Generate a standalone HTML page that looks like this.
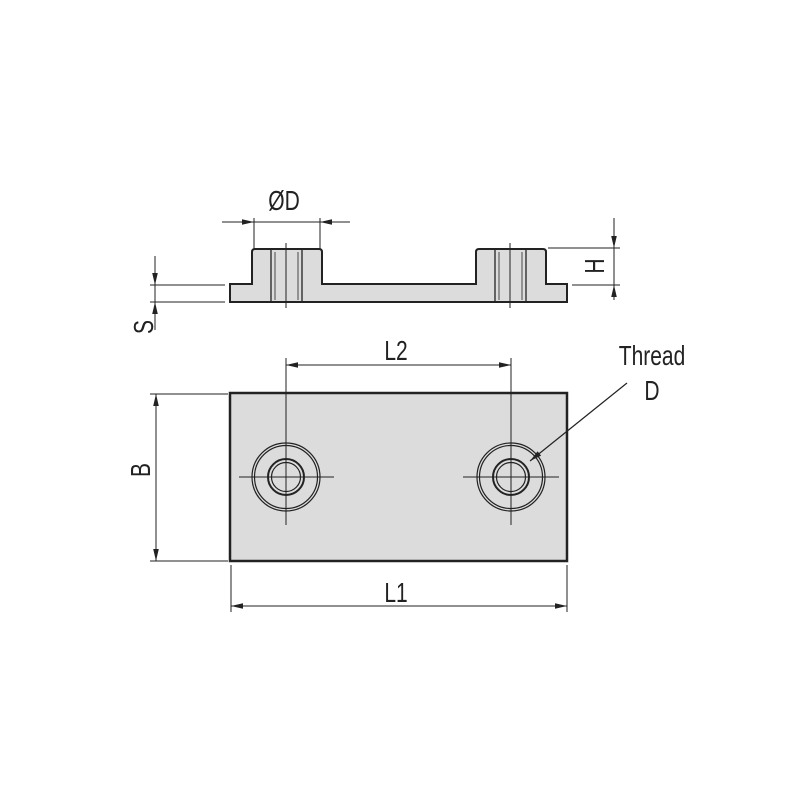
<!DOCTYPE html>
<html><head><meta charset="utf-8"><style>
html,body{margin:0;padding:0;background:#fff;width:800px;height:800px;overflow:hidden}
text{font-family:"Liberation Sans",sans-serif;fill:#222;font-size:28px}
</style></head><body>
<svg width="800" height="800" viewBox="0 0 800 800" xmlns="http://www.w3.org/2000/svg">
<defs>
<marker id="a" viewBox="0 0 10 10" refX="10" refY="5" markerWidth="12" markerHeight="7" orient="auto-start-reverse" markerUnits="userSpaceOnUse" preserveAspectRatio="none"><path d="M0,1 L10,5 L0,9z" fill="#222"/></marker>
</defs>
<g stroke="#222" fill="none">
<!-- side view -->
<path d="M230,284 H252 V252 Q252,249 255,249 H319 Q322,249 322,252 V284 H476 V252 Q476,249 479,249 H543 Q546,249 546,252 V284 H567 V302 H230 Z" fill="#dcdcdc" stroke-width="2"/>
<g stroke-width="1.3">
<rect x="271" y="249" width="31" height="53"/>
<rect x="495" y="249" width="31" height="53"/>
<path d="M275,252 V300 M298,252 V300 M499,252 V300 M522,252 V300" stroke-width="0.8"/>
</g>
<path d="M286,243 V308 M510,243 V308" stroke-width="1"/>
<!-- ØD -->
<path d="M254,218 V249 M320,218 V249" stroke-width="1"/>
<path d="M222,222 H254" stroke-width="1" marker-end="url(#a)"/>
<path d="M350,222 H320" stroke-width="1" marker-end="url(#a)"/>
<path d="M254,222 H320" stroke-width="1"/>
<!-- H -->
<path d="M548,248 H620 M572,285 H620" stroke-width="1"/>
<path d="M614,218 V248" stroke-width="1" marker-end="url(#a)"/>
<path d="M614,300 V285" stroke-width="1" marker-end="url(#a)"/>
<path d="M614,248 V285" stroke-width="1"/>
<!-- S -->
<path d="M150,285 H225 M150,302 H225" stroke-width="1"/>
<path d="M155,256 V285" stroke-width="1" marker-end="url(#a)"/>
<path d="M155,330 V302" stroke-width="1" marker-end="url(#a)"/>
<path d="M155,285 V302" stroke-width="1"/>
<!-- plan view -->
<rect x="230" y="393" width="337" height="168" fill="#dcdcdc" stroke-width="2.5"/>
<g stroke-width="1.2">
<circle cx="286" cy="477" r="34"/><circle cx="286" cy="477" r="31.5"/>
<circle cx="286" cy="477" r="18" stroke-width="2"/><circle cx="286" cy="477" r="14.5"/>
<circle cx="511" cy="477" r="34"/><circle cx="511" cy="477" r="31.5"/>
<circle cx="511" cy="477" r="18" stroke-width="2"/><circle cx="511" cy="477" r="14.5"/>
</g>
<path d="M239,477 H334 M463,477 H559 M286,358 V525 M511,358 V525" stroke-width="1"/>
<!-- L2 -->
<path d="M286,365 H511" stroke-width="1" marker-start="url(#a)" marker-end="url(#a)"/>
<!-- B -->
<path d="M150,394 H228 M150,561 H228" stroke-width="1"/>
<path d="M156,394 V561" stroke-width="1" marker-start="url(#a)" marker-end="url(#a)"/>
<!-- L1 -->
<path d="M231,565 V612 M567,565 V612" stroke-width="1"/>
<path d="M231,606 H567" stroke-width="1" marker-start="url(#a)" marker-end="url(#a)"/>
<!-- leader -->
<path d="M627,383 L530,461" stroke-width="1.2" marker-end="url(#a)"/>
</g>
<text transform="translate(284,210) scale(0.75,1)" text-anchor="middle">ØD</text>
<text transform="translate(396,360) scale(0.75,1)" text-anchor="middle">L2</text>
<text transform="translate(396,602) scale(0.75,1)" text-anchor="middle">L1</text>
<text transform="translate(652,365) scale(0.75,1)" text-anchor="middle">Thread</text>
<text transform="translate(652,400) scale(0.75,1)" text-anchor="middle">D</text>
<text transform="translate(604,266) rotate(-90) scale(0.75,1)" text-anchor="middle">H</text>
<text transform="translate(153,327) rotate(-90) scale(0.75,1)" text-anchor="middle">S</text>
<text transform="translate(150,470) rotate(-90) scale(0.75,1)" text-anchor="middle">B</text>
</svg>
</body></html>
